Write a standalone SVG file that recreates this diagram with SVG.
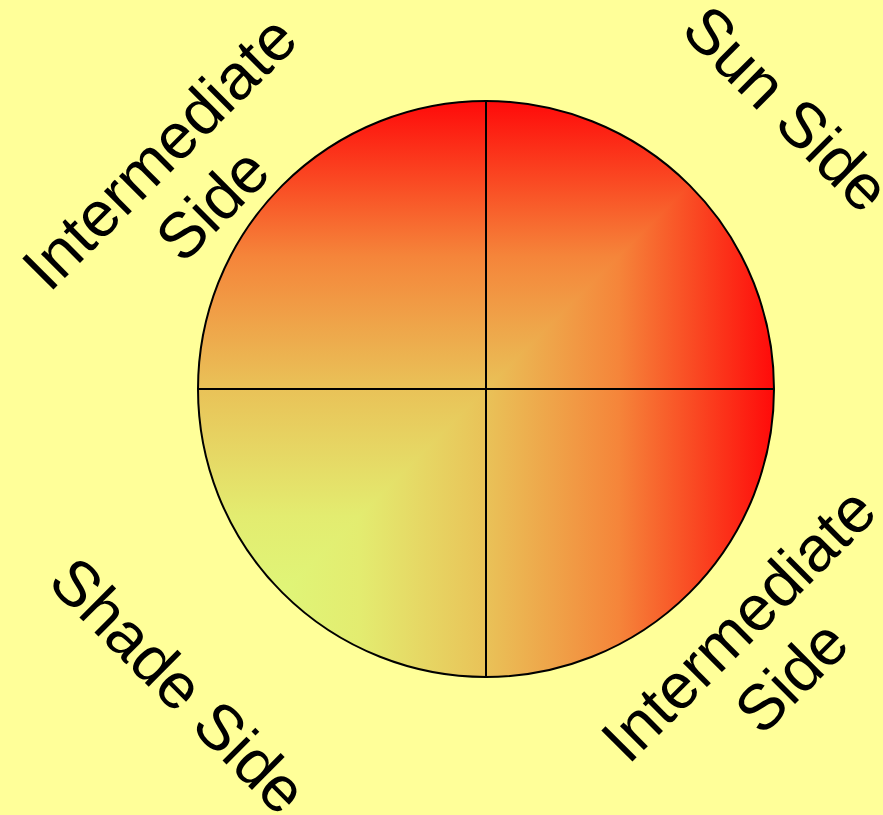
<svg xmlns="http://www.w3.org/2000/svg" width="883" height="815" viewBox="0 0 883 815">
  <style>
    .lbl { font-family: "Liberation Sans", Arial, sans-serif; font-size: 64px; fill: #000; text-anchor: middle; }
    .ln { stroke: #000; stroke-width: 2; fill: none; }
  </style>
  <defs>
    <linearGradient id="gx" gradientUnits="userSpaceOnUse" x1="198" y1="0" x2="774" y2="0">
      <stop offset="0" stop-color="#dcff80"/>
      <stop offset="0.28" stop-color="#e3ec70"/>
      <stop offset="0.5" stop-color="#e9c258"/>
      <stop offset="0.73" stop-color="#f5853a"/>
      <stop offset="1" stop-color="#ff0a0a"/>
    </linearGradient>
    <linearGradient id="gy" gradientUnits="userSpaceOnUse" x1="0" y1="677" x2="0" y2="101">
      <stop offset="0" stop-color="#dcff80"/>
      <stop offset="0.28" stop-color="#e3ec70"/>
      <stop offset="0.5" stop-color="#e9c258"/>
      <stop offset="0.73" stop-color="#f5853a"/>
      <stop offset="1" stop-color="#ff0a0a"/>
    </linearGradient>
    <clipPath id="cc">
      <circle cx="486" cy="389" r="288"/>
    </clipPath>
  </defs>
  <rect width="883" height="815" fill="#ffff99"/>
  <g id="disc">
    <circle cx="486" cy="389" r="288" fill="url(#gx)"/>
    <polygon points="198,677 774,101 198,101" fill="url(#gy)" clip-path="url(#cc)"/>
    <circle cx="486" cy="389" r="288" class="ln"/>
  </g>
  <g id="connectors">
    <line class="ln" x1="486" y1="101" x2="486" y2="677"/>
    <line class="ln" x1="198" y1="389" x2="774" y2="389"/>
  </g>
  <g id="label-intermediate-ul">
    <text class="lbl" transform="translate(175,168) rotate(-45)">Intermediate</text>
    <text class="lbl" transform="translate(228,220) rotate(-45)">Side</text>
  </g>
  <g id="label-sun">
    <text class="lbl" transform="translate(771,124) rotate(45)">Sun Side</text>
  </g>
  <g id="label-shade">
    <text class="lbl" transform="translate(163,701) rotate(45)">Shade Side</text>
  </g>
  <g id="label-intermediate-lr">
    <text class="lbl" transform="translate(754,640) rotate(-45)">Intermediate</text>
    <text class="lbl" transform="translate(807,692) rotate(-45)">Side</text>
  </g>
</svg>
